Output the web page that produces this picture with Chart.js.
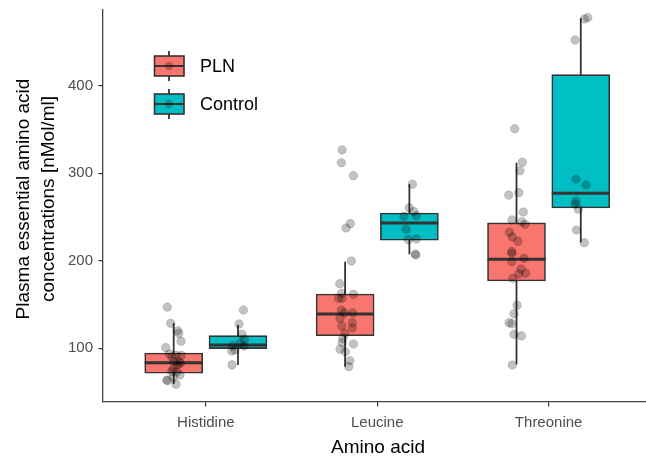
<!DOCTYPE html>
<html>
<head>
<meta charset="utf-8">
<script src="https://cdn.jsdelivr.net/npm/chart.js@4.4.1/dist/chart.umd.min.js"></script>
<style>
  html, body { margin: 0; padding: 0; background: #fff; }
  #wrap { width: 646px; height: 457px; position: relative; }
</style>
</head>
<body>
<div id="wrap"><canvas id="aminoChart" width="646" height="457"></canvas></div>
<script>
// categories and groups
const categories = ['Histidine', 'Leucine', 'Threonine'];
const groups = ['PLN', 'Control'];
const groupColors = ['#F8766D', '#00BFC4'];
const yTicks = [100, 200, 300, 400];

// box stats (nMol/ml)
const plnLow    = [59.2, 79.0, 81.7];
const plnQ1     = [71.4, 114.4, 176.9];
const plnMedian = [83.5, 139.2, 201.7];
const plnQ3     = [94.6, 162.0, 243.2];
const plnHigh   = [128.6, 199.0, 312.0];

const controlLow    = [81.0, 207.4, 221.1];
const controlQ1     = [99.6, 223.4, 260.3];
const controlMedian = [103.8, 243.2, 277.1];
const controlQ3     = [114.4, 254.6, 412.6];
const controlHigh   = [126.6, 287.4, 477.0];

// jittered observations [x, value]
const plnPoints = [
  [0.775, 147], [0.795, 128.6], [0.836, 120], [0.842, 117], [0.855, 108], [0.766, 100.7],
  [0.787, 93.5], [0.826, 92], [0.857, 92], [0.845, 84], [0.834, 81], [0.852, 83],
  [0.810, 76.7], [0.801, 73.3], [0.830, 73], [0.849, 69.5], [0.810, 67], [0.772, 63.8],
  [0.777, 63], [0.826, 59], [0.814, 85], [0.803, 90],
  [1.795, 326.6], [1.791, 312], [1.861, 297.2], [1.843, 242.4], [1.818, 237.4], [1.849, 199.7],
  [1.781, 173.8], [1.791, 162.8], [1.861, 161.7], [1.775, 157.1], [1.795, 157.1], [1.791, 143.4],
  [1.808, 140.3], [1.857, 140.3], [1.783, 134.3], [1.855, 129.2], [1.793, 125.5], [1.855, 123.2],
  [1.812, 117.1], [1.799, 111.4], [1.796, 106.4], [1.861, 104.9], [1.783, 98.9], [1.814, 96.1],
  [1.841, 85.8], [1.834, 79],
  [2.802, 350.9], [2.847, 312.5], [2.833, 302.9], [2.826, 277.8], [2.767, 275.1], [2.852, 255.7],
  [2.786, 246.6], [2.843, 244.6], [2.862, 241.7], [2.771, 232.5], [2.788, 227.2], [2.821, 222.2],
  [2.785, 210.4], [2.786, 208.5], [2.856, 202.8], [2.785, 198.9], [2.839, 190.6], [2.826, 184.9],
  [2.866, 185.7], [2.791, 180], [2.816, 149.1], [2.798, 139.5], [2.769, 129.2], [2.785, 128.1],
  [2.798, 116], [2.841, 114.1], [2.788, 80.9]
];
const controlPoints = [
  [1.219, 143.8], [1.194, 127.8], [1.211, 116], [1.225, 110.3], [1.200, 105.7],
  [1.157, 102.6], [1.223, 102.6], [1.170, 98], [1.151, 96.9], [1.153, 81],
  [2.205, 287.4], [2.187, 260.6], [2.213, 256.1], [2.156, 250.8], [2.228, 251.5],
  [2.168, 236], [2.181, 224.1], [2.228, 224.9], [2.221, 207.7], [2.226, 206.6],
  [3.228, 477.7], [3.208, 476.2], [3.154, 452.2], [3.160, 293.4], [3.218, 286.6],
  [3.160, 268.3], [3.154, 264.9], [3.173, 258.8], [3.162, 235.2], [3.208, 220.6]
];

const boxStats = [
  { low: plnLow, q1: plnQ1, median: plnMedian, q3: plnQ3, high: plnHigh },
  { low: controlLow, q1: controlQ1, median: controlMedian, q3: controlQ3, high: controlHigh }
];
const dodge = 0.1875;
const FONT = '"Liberation Sans", Arial, Helvetica, sans-serif';
const LINE = '#333333';

const boxData = (g) => categories.map((c, i) => ({
  x: i + 1 + (g === 0 ? -dodge : dodge),
  y: [boxStats[g].q1[i], boxStats[g].q3[i]]
}));

// whiskers under the boxes, medians on top, plus legend and axis titles
const boxPlugin = {
  id: 'boxPlugin',
  beforeDatasetsDraw(chart) {
    const ctx = chart.ctx, y = chart.scales.y;
    ctx.save();
    ctx.strokeStyle = LINE;
    ctx.lineWidth = 1.8;
    for (let g = 0; g < 2; g++) {
      chart.getDatasetMeta(g).data.forEach((bar, i) => {
        ctx.beginPath();
        ctx.moveTo(bar.x, y.getPixelForValue(boxStats[g].low[i]));
        ctx.lineTo(bar.x, y.getPixelForValue(boxStats[g].high[i]));
        ctx.stroke();
      });
    }
    ctx.restore();
  },
  afterDatasetDraw(chart, args) {
    if (args.index > 1) return;
    const ctx = chart.ctx, y = chart.scales.y, g = args.index;
    ctx.save();
    ctx.strokeStyle = LINE;
    ctx.lineWidth = 3;
    args.meta.data.forEach((bar, i) => {
      const py = y.getPixelForValue(boxStats[g].median[i]);
      ctx.beginPath();
      ctx.moveTo(bar.x - bar.width / 2, py);
      ctx.lineTo(bar.x + bar.width / 2, py);
      ctx.stroke();
    });
    ctx.restore();
  },
  afterDraw(chart) {
    const ctx = chart.ctx;
    ctx.save();
    // legend keys
    groups.forEach((name, g) => {
      const cy = 66 + g * 38, cx = 169;
      ctx.strokeStyle = LINE;
      ctx.lineWidth = 1.8;
      ctx.beginPath();
      ctx.moveTo(cx, cy - 15); ctx.lineTo(cx, cy + 15);
      ctx.stroke();
      ctx.fillStyle = groupColors[g];
      ctx.fillRect(154.5, cy - 10, 29.5, 20);
      ctx.lineWidth = 1.6;
      ctx.strokeRect(154.5, cy - 10, 29.5, 20);
      ctx.lineWidth = 2;
      ctx.beginPath();
      ctx.moveTo(154.5, cy); ctx.lineTo(184, cy);
      ctx.stroke();
      ctx.fillStyle = 'rgba(0,0,0,0.25)';
      ctx.beginPath();
      ctx.arc(cx, cy, 4.3, 0, Math.PI * 2);
      ctx.fill();
      ctx.fillStyle = '#000';
      ctx.font = '18px ' + FONT;
      ctx.textAlign = 'left';
      ctx.textBaseline = 'middle';
      ctx.fillText(name, 200, cy + 1);
    });
    // axis titles
    ctx.fillStyle = '#000';
    ctx.font = '19px ' + FONT;
    ctx.textAlign = 'center';
    ctx.textBaseline = 'alphabetic';
    ctx.fillText('Amino acid', 378, 453);
    ctx.translate(0, 199);
    ctx.rotate(-Math.PI / 2);
    ctx.fillText('Plasma essential amino acid', 0, 29);
    ctx.fillText('concentrations [nMol/ml]', 0, 54);
    ctx.restore();
  }
};

new Chart(document.getElementById('aminoChart'), {
  type: 'bar',
  data: {
    datasets: [
      ...groups.map((name, g) => ({
        type: 'bar',
        label: name,
        data: boxData(g),
        backgroundColor: groupColors[g],
        borderColor: LINE,
        borderWidth: 1.6,
        borderSkipped: false,
        barThickness: 58,
        grouped: false,
        order: 1
      })),
      ...[plnPoints, controlPoints].map((pts, g) => ({
        type: 'scatter',
        label: groups[g] + ' points',
        data: pts.map(p => ({ x: p[0], y: p[1] })),
        backgroundColor: 'rgba(0,0,0,0.24)',
        borderColor: 'rgba(0,0,0,0.14)',
        borderWidth: 1,
        pointRadius: 4.3,
        order: 0
      }))
    ]
  },
  options: {
    responsive: false,
    animation: false,
    layout: { autoPadding: false, padding: { top: 10, left: 0, right: 0, bottom: 0 } },
    plugins: { legend: { display: false }, tooltip: { enabled: false } },
    scales: {
      x: {
        type: 'linear',
        offset: false,
        min: 0.4,
        max: 3.568,
        afterFit: (s) => { s.height = 55; s.paddingLeft = 0; s.paddingRight = 0; },
        afterBuildTicks: (s) => { s.ticks = categories.map((c, i) => ({ value: i + 1 })); },
        ticks: {
          callback: (v) => categories[v - 1],
          color: '#4d4d4d',
          font: { family: FONT, size: 15 },
          padding: 7,
          maxRotation: 0
        },
        grid: { display: true, offset: false, drawOnChartArea: false, drawTicks: true, tickLength: 4.5, color: LINE, lineWidth: 1.2 },
        border: { display: true, color: '#444', width: 1.3 }
      },
      y: {
        min: 38.6,
        max: 486.5,
        afterFit: (s) => { s.width = 103; s.paddingTop = 0; s.paddingBottom = 0; },
        afterBuildTicks: (s) => { s.ticks = yTicks.map(v => ({ value: v })); },
        ticks: {
          color: '#4d4d4d',
          font: { family: FONT, size: 15 },
          padding: 5.5
        },
        grid: { display: true, drawOnChartArea: false, drawTicks: true, tickLength: 4.5, color: LINE, lineWidth: 1.2 },
        border: { display: true, color: '#444', width: 1.3 }
      }
    }
  },
  plugins: [boxPlugin]
});
</script>
</body>
</html>
